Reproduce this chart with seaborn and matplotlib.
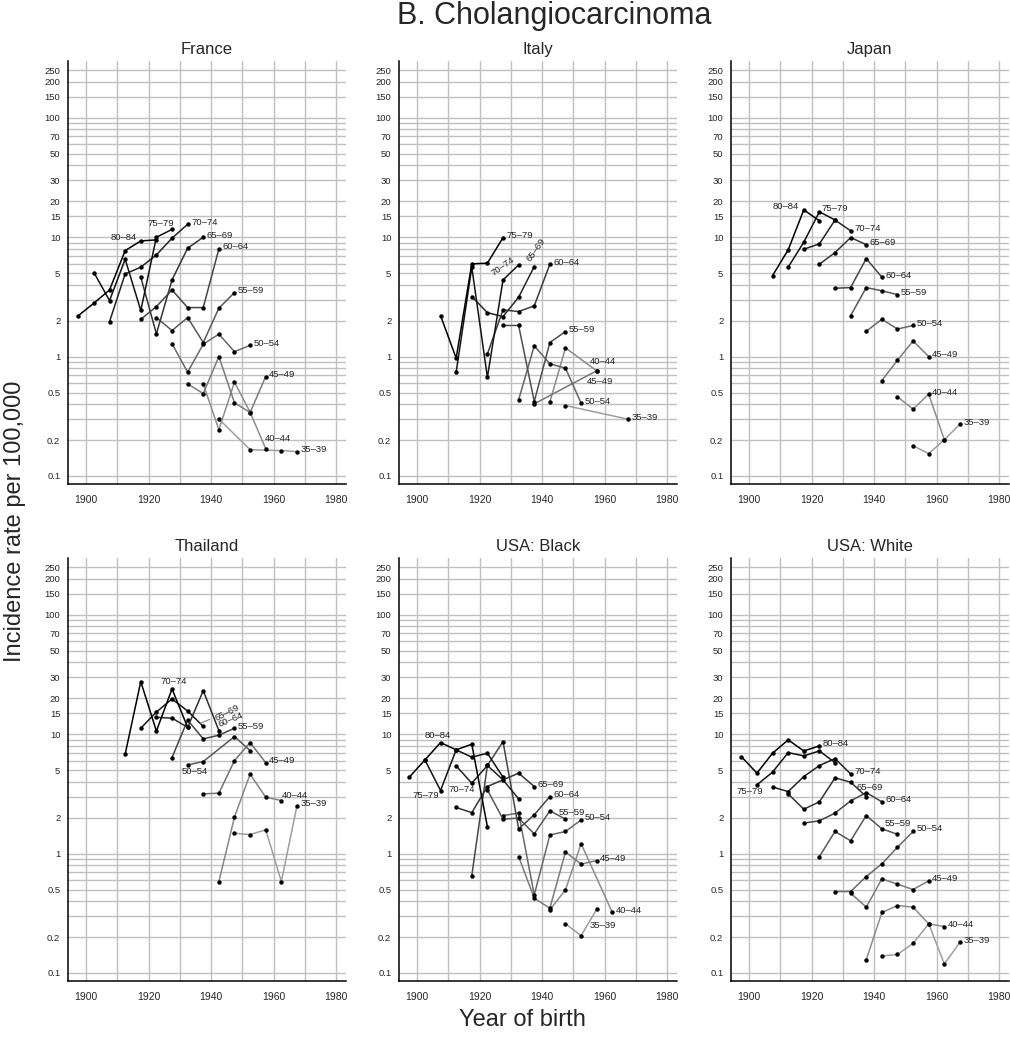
import numpy as np
import pandas as pd
import matplotlib
matplotlib.use("Agg")
import matplotlib.pyplot as plt
import seaborn as sns
from matplotlib.ticker import FixedLocator, FixedFormatter, NullFormatter

ages = ["35-39", "40-44", "45-49", "50-54", "55-59",
        "60-64", "65-69", "70-74", "75-79", "80-84"]

# rates per 100,000 by age group, one value per period (None = no point)
france_periods = [1980, 1985, 1990, 1995, 2000, 2005]
france = {
    "35-39": [0.30, None, 0.166, None, 0.163, 0.160],
    "40-44": [0.59, 0.244, 0.611, 0.342, 0.169, None],
    "45-49": [0.59, 0.49, 1.00, 0.41, 0.34, 0.68],
    "50-54": [1.28, 0.74, 1.27, 1.54, 1.10, 1.24],
    "55-59": [2.12, 1.65, 2.12, 1.31, 2.54, 3.43],
    "60-64": [2.05, 2.62, 3.61, 2.57, 2.57, 7.96],
    "65-69": [None, 4.62, 1.55, 4.38, 8.07, 9.98],
    "70-74": [1.96, 4.92, 5.60, 7.10, 9.79, 12.8],
    "75-79": [5.05, 2.94, 6.53, 2.43, 9.98, 11.6],
    "80-84": [2.20, 2.80, 3.61, 7.71, 9.29, 9.48],
}

italy_periods = [1985, 1990, 1995, 2000, 2005]
italy = {
    "35-39": [0.389, None, None, None, 0.299],
    "40-44": [0.417, 1.18, None, 0.76, None],
    "45-49": [0.402, None, None, None, 0.76],
    "50-54": [0.434, 1.23, 0.869, 0.80, 0.407],
    "55-59": [1.82, 1.82, 0.42, 1.31, 1.62],
    "60-64": [1.05, 2.46, 2.38, 2.66, 5.93],
    "65-69": [3.18, 2.33, 2.16, 3.14, 5.67],
    "70-74": [0.74, 5.60, 0.67, 4.38, 5.85],
    "75-79": [2.20, 0.97, 5.97, 6.05, 9.9],
}

japan_periods = [1990, 1995, 2000, 2005]
japan = {
    "35-39": [0.179, 0.154, 0.201, 0.272],
    "40-44": [0.46, 0.363, 0.484, 0.201],
    "45-49": [0.63, 0.933, 1.35, 1.00],
    "50-54": [1.63, 2.05, 1.70, 1.82],
    "55-59": [2.20, 3.78, 3.55, 3.30],
    "60-64": [3.73, 3.78, 6.61, 4.62],
    "65-69": [5.93, 7.42, 9.91, 8.65],
    "70-74": [7.92, 8.77, 13.9, 11.3],
    "75-79": [5.60, 9.06, 16.3, 13.9],
    "80-84": [4.76, 7.81, 16.9, 13.7],
}

thailand_periods = [1985, 1990, 1995, 2000, 2005]
thailand = {
    "35-39": [1.48, 1.44, 1.58, 0.583, 2.51],
    "40-44": [0.583, 2.02, 4.62, 2.96, 2.78],
    "45-49": [3.16, 3.20, 6.00, 8.49, 5.77],
    "50-54": [5.52, 5.89, None, 9.53, 7.28],
    "55-59": [6.36, 13.1, 9.12, 9.79, 11.2],
    "60-64": [13.8, 13.6, 11.4, 23.1, 10.7],
    "65-69": [11.2, 15.3, 19.7, 15.6, 11.6],
    "70-74": [6.79, 27.5, 10.6, 23.9, 11.4],
}

usa_periods = [1980, 1985, 1990, 1995, 2000, 2005]
usa_black = {
    "35-39": [None, 0.258, 0.205, 0.343, None, None],
    "40-44": [None, 0.338, 0.497, 1.21, None, 0.321],
    "45-49": [0.944, 0.423, 0.349, 1.03, 0.815, 0.874],
    "50-54": [2.08, 2.18, 0.451, 1.43, 1.53, 1.91],
    "55-59": [3.41, 1.94, 1.98, 1.46, 2.28, 1.94],
    "60-64": [0.651, 5.46, 8.65, 1.61, 2.11, 3.00],
    "65-69": [2.43, 2.20, 3.64, None, 4.71, 3.64],
    "70-74": [None, 5.42, 3.88, 5.46, 4.14, 2.87],
    "75-79": [6.08, 3.37, 7.38, 6.41, 6.92, 4.36],
    "80-84": [4.36, 6.08, 8.49, 7.38, 8.23, 1.68],
}
usa_white = {
    "35-39": [0.139, 0.143, 0.177, 0.258, 0.119, 0.181],
    "40-44": [0.129, 0.321, 0.367, 0.356, 0.258, 0.245],
    "45-49": [0.466, 0.356, 0.614, 0.554, 0.500, 0.591],
    "50-54": [0.481, 0.481, 0.642, 0.820, 1.13, 1.53],
    "55-59": [0.944, 1.53, 1.28, 2.08, 1.61, 1.45],
    "60-64": [1.80, 1.88, 2.18, 2.76, 3.24, 2.71],
    "65-69": [3.16, 2.35, 2.71, 4.30, 3.96, 3.00],
    "70-74": [3.61, 3.30, 4.41, 5.45, 6.24, 4.64],
    "75-79": [3.76, 4.80, 7.00, 6.57, 7.23, 5.77],
    "80-84": [6.48, 4.71, 6.92, 8.94, 7.23, 7.96],
}

y_major = [0.1, 0.2, 0.5, 1, 2, 5, 10, 15, 20, 30, 50, 70, 100, 150, 200, 250]
y_major_labels = ["0.1", "0.2", "0.5", "1", "2", "5", "10", "15", "20",
                  "30", "50", "70", "100", "150", "200", "250"]
y_minor = [0.3, 0.4, 0.6, 0.7, 0.8, 0.9, 3, 4, 6, 7, 8, 9, 40, 60, 80, 90]
x_major = [1900, 1920, 1940, 1960, 1980]
x_minor = [1910, 1930, 1950, 1970]

panels = [
    ("France", france_periods, france),
    ("Italy", italy_periods, italy),
    ("Japan", japan_periods, japan),
    ("Thailand", thailand_periods, thailand),
    ("USA: Black", usa_periods, usa_black),
    ("USA: White", usa_periods, usa_white),
]

# label placement: age -> (period index to hang on, dx px, dy px, ha, rotation)
default_spot = (-1, 3.5, 2, "left", 0)
label_spots = {
    "France": {"80-84": (4, -4, 3.5, "right", 0),
               "75-79": (-1, 2, 6, "right", 0),
               "40-44": (-1, -0.5, 10.5, "left", 0)},
    "Italy": {"70-74": (-1, -2, 2, "right", 35),
              "65-69": (-1, -2, 3, "left", 55),
              "45-49": (-1, -10, -10.5, "left", 0),
              "40-44": (3, -7, 9.5, "left", 0)},
    "Japan": {"80-84": (2, -4.5, 3.5, "right", 0),
              "75-79": (2, 2, 3.5, "left", 0),
              "40-44": (2, 3.5, 2, "left", 0)},
    "Thailand": {"70-74": (3, 2, 7.5, "center", 0),
                 "65-69": ("lead", 15, 5, "left", 27),
                 "60-64": (-1, 1, 2, "left", 22),
                 "50-54": (0, -6, -7, "left", 0),
                 "40-44": (-1, 0.5, 5.5, "left", 0)},
    "USA: Black": {"80-84": (2, -3, 7, "center", 0),
                   "75-79": (1, -1.5, -5, "right", 0),
                   "70-74": (2, 3, -6.5, "right", 0),
                   "55-59": (-1, -7, 7, "left", 0),
                   "35-39": (-1, -7, -16.5, "left", 0)},
    "USA: White": {"75-79": (0, -7, -6.5, "center", 0),
                   "65-69": (-1, -10, 9.5, "left", 0),
                   "55-59": (-1, -13, 10.5, "left", 0),
                   "50-54": (-1, 3.5, 3, "left", 0)},
}

sns.set_theme(style="white")
plt.rcParams["font.family"] = ["Liberation Sans", "DejaVu Sans"]

fig = plt.figure(figsize=(10.1, 10.5), dpi=100)
W, H = 1010.0, 1050.0
lefts = [68, 399, 731]
tops = [61, 558]
ax_w, ax_h = 278, 423

PX = 0.72  # points per pixel at 100 dpi

for k, (name, periods, table) in enumerate(panels):
    row, col = divmod(k, 3)
    ax = fig.add_axes([lefts[col] / W, 1 - (tops[row] + ax_h) / H, ax_w / W, ax_h / H])

    present = [a for a in ages if a in table]
    n = len(present)
    shades = {a: str(round(0.62 * (1 - i / (n - 1)), 3)) for i, a in enumerate(present)}

    rows = []
    for a in present:
        mid = int(a[:2]) + 2.5
        for p, v in zip(periods, table[a]):
            if v is not None:
                rows.append({"cohort": p - mid, "rate": v, "age": a})
    df = pd.DataFrame(rows)

    sns.lineplot(data=df, x="cohort", y="rate", hue="age", hue_order=present,
                 palette=shades, estimator=None, errorbar=None, legend=False,
                 marker="o", markersize=3.2, markerfacecolor="black",
                 markeredgecolor="black", markeredgewidth=0, linewidth=1.1, ax=ax)

    ax.set_yscale("log")
    ax.set_xlim(1894.2, 1983.2)
    ax.set_ylim(0.0857, 298)
    ax.yaxis.set_major_locator(FixedLocator(y_major))
    ax.yaxis.set_major_formatter(FixedFormatter(y_major_labels))
    ax.yaxis.set_minor_locator(FixedLocator(y_minor))
    ax.yaxis.set_minor_formatter(NullFormatter())
    ax.xaxis.set_major_locator(FixedLocator(x_major))
    ax.xaxis.set_minor_locator(FixedLocator(x_minor))
    ax.grid(True, which="both", color="#c0c0c0", linewidth=1.0)
    ax.set_axisbelow(True)
    sns.despine(ax=ax)
    for s in ("left", "bottom"):
        ax.spines[s].set_color("black")
        ax.spines[s].set_linewidth(1.1)
    ax.tick_params(which="both", direction="out", length=3, width=0.9, color="black")
    ax.tick_params(axis="y", which="major", labelsize=6.8, pad=2.5)
    ax.tick_params(axis="x", which="major", labelsize=7.5, pad=5)
    ax.set_xlabel("")
    ax.set_ylabel("")
    ax.set_title(name, fontsize=12, pad=5)

    # age group labels
    spots = label_spots.get(name, {})
    for a in present:
        mid = int(a[:2]) + 2.5
        pts = [(p - mid, v) for p, v in zip(periods, table[a])]
        idx, dx, dy, ha, rot = spots.get(a, default_spot)
        text = a.replace("-", "\u2013")
        if idx == "lead":
            valid = [q for q in pts if q[1] is not None]
            (x0, y0), (x1, y1) = valid[-2], valid[-1]
            f = 0.8
            xy = (x0 + f * (x1 - x0), 10 ** (np.log10(y0) + f * (np.log10(y1) - np.log10(y0))))
            ax.annotate(text, xy=xy, xytext=(dx * PX, dy * PX), textcoords="offset points",
                        ha=ha, va="center", rotation=rot, rotation_mode="anchor",
                        fontsize=6.8, color="#222222",
                        arrowprops=dict(arrowstyle="-", color="#777777", lw=0.7,
                                        shrinkA=0, shrinkB=0))
            continue
        if idx == -1:
            xy = [q for q in pts if q[1] is not None][-1]
        else:
            xy = pts[idx]
        va = "bottom" if rot else "center"
        ax.annotate(text, xy=xy, xytext=(dx * PX, dy * PX), textcoords="offset points",
                    ha=ha, va=va, rotation=rot, rotation_mode="anchor",
                    fontsize=6.8, color="#222222")

fig.text(554 / W, 1 - 16 / H, "B. Cholangiocarcinoma", ha="center", va="center", fontsize=22)
fig.text(15 / W, 1 - 521 / H, "Incidence rate per 100,000", ha="center", va="center",
         rotation=90, fontsize=17)
fig.text(522 / W, 1 - 1020 / H, "Year of birth", ha="center", va="center", fontsize=17)

fig.savefig("out.png", dpi=100)
